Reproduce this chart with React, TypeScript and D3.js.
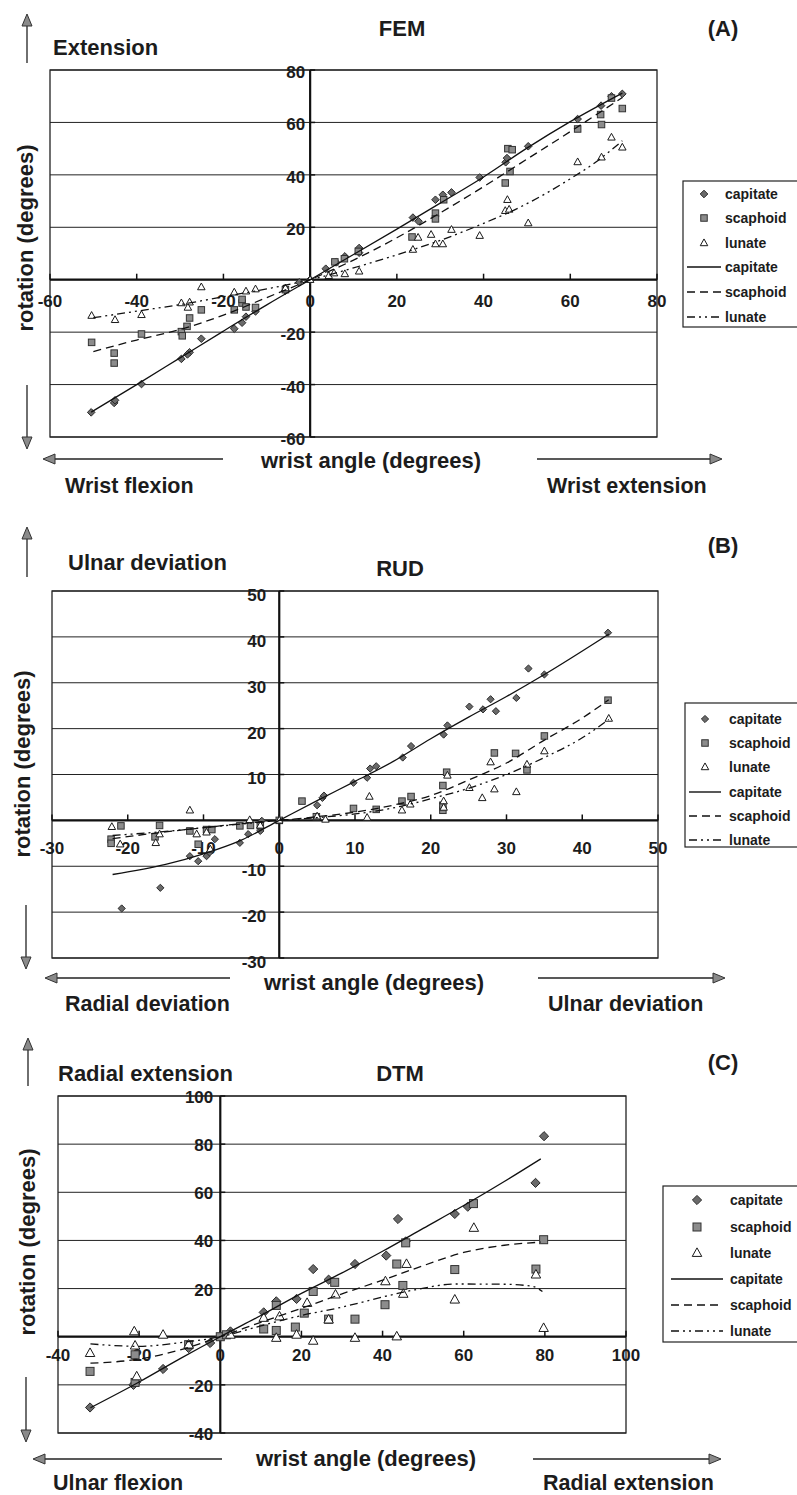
import React from "react";
import * as d3 from "d3";

type Pt = [number, number];

const FONT = "'Liberation Sans', Arial, Helvetica, sans-serif";

// ---------- (A) FEM ----------
const femCapitate: Pt[] = [[-50.5,-50.6],[-45.2,-47],[-45,-46],[-38.9,-39.8],[-29.7,-30.2],[-27.8,-27.7],[-28.3,-28.5],[-25.1,-22.5],[-17.5,-18.7],[-15.7,-16.4],[-14.8,-14.1],[-12.6,-12.1],[-5.7,-4.2],[-2.5,-1],[0,0],[3.6,4.2],[6,6.6],[8,8.9],[11.3,10.3],[11.3,12.1],[23.7,23.7],[25,22.3],[28.9,30.5],[30.6,32.4],[32.6,33.3],[39.1,39],[45.1,44.8],[45.4,46.4],[50.3,50.9],[61.7,61.3],[67.1,66.4],[69.5,70],[72,70.9]];
const femScaphoid: Pt[] = [[-50.4,-23.9],[-45.2,-28],[-45.2,-31.8],[-38.9,-20.7],[-29.7,-19.8],[-29.5,-21.4],[-28.4,-17.8],[-27.8,-14.6],[-25.1,-11.5],[-17.5,-11.5],[-15.7,-8.9],[-15.7,-7.5],[-14.8,-10.4],[-12.6,-10.6],[-5.7,-3.8],[5.7,6.8],[7.9,8],[11.1,10.8],[23.5,16.3],[28.9,25.4],[28.9,23.2],[30.8,30.5],[45,36.9],[46.1,41.3],[45.6,50],[46.6,49.6],[61.7,57.5],[67,63],[67.2,59.2],[69.5,69.3],[72,65.3]];
const femLunate: Pt[] = [[-50.4,-13.7],[-45,-15.3],[-38.9,-13.4],[-29.7,-8.9],[-27.8,-8.6],[-28.2,-10.6],[-25.1,-2.8],[-17.5,-4.8],[-14.8,-4.4],[-12.6,-3.6],[-5.7,-3.2],[0,0],[4.3,1.5],[5.5,2.5],[8,2.2],[11.3,3.2],[23.7,11.5],[24.9,16.1],[27.9,17.2],[28.9,13.6],[30.6,13.6],[32.6,19.1],[39.1,16.8],[45,26.3],[45.9,26.8],[45.5,30.5],[50.3,21.6],[61.7,44.9],[67.2,46.7],[69.5,54.3],[72,50.5]];
const femCapitateFit: Pt[] = [[-50.5,-50.5],[-40,-40],[-30,-29.8],[-20,-19.6],[-10,-9.6],[0,0],[10,9.6],[20,19.3],[30,29.2],[40,39.2],[50,50.2],[60,60.3],[72,71.2]];
const femScaphoidFit: Pt[] = [[-50,-27.4],[-40,-23],[-30,-19],[-20,-13.5],[-10,-6.8],[0,0],[10,7.5],[20,16],[30,25.5],[40,35.5],[50,46],[60,56.5],[72,69.5]];
const femLunateFit: Pt[] = [[-50,-14.5],[-40,-12],[-30,-9.5],[-20,-6.5],[-10,-3.5],[0,0],[10,4.5],[20,9.5],[30,15],[40,21.5],[50,29],[60,38.5],[66,45],[72,53]];
const femXTicks = [-60, -40, -20, 0, 20, 40, 60, 80];
const femYTicks = [-60, -40, -20, 0, 20, 40, 60, 80];

// ---------- (B) RUD ----------
const rudCapitate: Pt[] = [[-20.8,-19.2],[-15.7,-14.7],[-11.8,-7.8],[-10.7,-8.9],[-9.6,-7.8],[-9.2,-7],[-8.5,-4.1],[-5.2,-4.9],[-4.1,-3],[-2.5,-2.3],[-2.3,-0.1],[0,0],[5,3.3],[5.7,4.9],[5.9,5.4],[9.8,8.2],[11.6,9.3],[12,11.3],[12.8,11.8],[16.3,13.7],[17.4,16.2],[21.7,18.7],[22.2,20.7],[25.1,24.8],[26.9,24.2],[27.9,26.4],[28.6,23.8],[31.3,26.7],[32.9,33.1],[35,31.8],[43.4,40.9]];
const rudScaphoid: Pt[] = [[-22.2,-4.1],[-22.2,-5],[-20.9,-1.2],[-16.4,-3.6],[-15.8,-1.1],[-11.8,-2.3],[-10.7,-5.2],[-9.6,-2],[-8.9,-2],[-5.2,-1.2],[-3.8,-1.1],[-2.5,-1.2],[0,0],[3,4.2],[4.9,0.8],[9.8,2.6],[12.8,2.4],[16.2,4.2],[17.4,5.2],[21.6,7.6],[22.1,10.5],[21.6,2.2],[21.6,3.3],[28.4,14.7],[31.2,14.6],[32.7,11],[35,18.4],[43.4,26.2]];
const rudLunate: Pt[] = [[-22.1,-1.4],[-21,-5.2],[-15.8,-3],[-16.3,-4.9],[-11.8,2.2],[-10.9,-3],[-9.1,-6.3],[-9.6,-2.6],[-3.9,0.1],[-2.5,-1.1],[0,0],[5,0.9],[6.1,0.2],[11.6,0.6],[11.9,5.2],[16.2,2.2],[17.3,3.5],[21.7,4.2],[21.7,2.8],[22.2,9.8],[25.1,7.1],[26.8,4.9],[28.4,6.8],[27.9,12.7],[31.3,6.2],[32.7,12.2],[35,15.1],[43.5,22.2]];
const rudCapitateFit: Pt[] = [[-22,-11.8],[-15,-9.6],[-10,-7.3],[-5,-4.3],[0,0],[5,4.3],[10,8.5],[15,12.8],[20,17.8],[25,22.5],[30,27],[35,31.8],[43.5,40.6]];
const rudScaphoidFit: Pt[] = [[-22,-4],[-15,-2.5],[-10,-1.6],[-5,-0.7],[0,0],[5,0.8],[10,1.8],[15,3.3],[20,5.4],[25,8.8],[30,12.5],[35,17.5],[40,22.3],[43.5,26.3]];
const rudLunateFit: Pt[] = [[-22,-3.3],[-15,-2.4],[-10,-1.6],[-5,-0.8],[0,0],[5,0.6],[10,1.4],[15,2.7],[20,4.7],[25,7],[30,10],[35,13.7],[40,18],[43.5,22]];
const rudXTicks = [-30, -20, -10, 0, 10, 20, 30, 40, 50];
const rudYTicks = [-30, -20, -10, 0, 10, 20, 30, 40, 50];

// ---------- (C) DTM ----------
const dtmCapitate: Pt[] = [[-32.1,-29.4],[-21.4,-20],[-20.8,-19],[-14.1,-13.4],[-7.8,-4.7],[-2.5,-2.6],[0,0],[2.5,2.2],[10.7,10.1],[13.8,14.7],[18.8,15.7],[22.9,28.1],[26.7,23.7],[33.2,30.2],[40.9,33.7],[43.8,48.9],[45.7,39.6],[57.8,51],[61,54],[77.7,63.9],[79.8,83.3]];
const dtmScaphoid: Pt[] = [[-32.1,-14.4],[-21,-7.5],[-21,-19],[-7.8,-3.3],[0,0],[1.5,0.8],[10.7,3.2],[13.8,2.6],[13.8,13],[18.5,4],[20.7,9.8],[22.9,18.8],[26.7,7.3],[28.2,22.6],[33.2,7.3],[40.6,13.3],[43.5,30.2],[45,21.3],[45.7,39],[57.8,27.9],[62.4,55.3],[77.8,28.1],[79.7,40.3]];
const dtmLunate: Pt[] = [[-32.1,-6.8],[-21.2,2.2],[-21,-3.7],[-20.6,-16.5],[-14.1,0.8],[-7.8,-3.3],[2.5,0.8],[10.7,7.8],[13.8,-0.5],[14.6,8.4],[18.8,0.8],[21.4,14],[22.9,-1.7],[26.7,7.1],[28.4,17.5],[33.2,-0.5],[40.7,23],[43.5,0.1],[45.1,17.8],[45.9,30.2],[57.8,15.4],[62.5,45.2],[77.8,25.8],[79.7,3.6]];
const dtmCapitateFit: Pt[] = [[-32,-29.5],[-20,-18.8],[-10,-9.2],[0,0],[10,8.8],[20,18],[30,26.5],[40,35.5],[50,45],[60,54.5],[70,64.5],[79,73.9]];
const dtmScaphoidFit: Pt[] = [[-32,-11],[-20,-9.3],[-10,-5.5],[0,0],[10,6],[20,11.8],[30,17.8],[40,23.5],[50,29.5],[60,35],[70,38],[79,39.3]];
const dtmLunateFit: Pt[] = [[-32,-3],[-20,-4],[-10,-2.5],[0,0],[10,4.5],[20,8.8],[30,12.3],[40,16.5],[48,19.5],[58,21.9],[70,21.8],[77,20.9],[79.4,18.8]];
const dtmXTicks = [-40, -20, 0, 20, 40, 60, 80, 100];
const dtmYTicks = [-40, -20, 0, 20, 40, 60, 80, 100];

const legendLabels = ["capitate", "scaphoid", "lunate", "capitate", "scaphoid", "lunate"];

const SCA_DASH = "8,5";
const LUN_DASH = "8,4,2,4,2,4";

interface PanelCfg {
  title: string; tag: string; upLabel: string; leftLabel: string; rightLabel: string;
  xDomain: Pt; yDomain: Pt; xRange: Pt; yRange: Pt;
  xTicks: number[]; yTicks: number[];
  cap: Pt[]; sca: Pt[]; lun: Pt[]; capFit: Pt[]; scaFit: Pt[]; lunFit: Pt[];
  titleXY: Pt; tagXY: Pt; upLabelXY: Pt; rotXY: Pt; axisTitleXY: Pt; leftLabelXY: Pt; rightLabelXY: Pt;
  upArrow: [number, number, number]; downArrow: [number, number, number];
  leftArrow: [number, number, number]; rightArrow: [number, number, number];
  legend: { x: number; y: number; h: number; mx: number; tx: number; l1: number; l2: number; rows: number[] };
  yLabelGap: number; yLabelDy: number; xLabelDy: number;
  mk: { d: number; s: number; t: number };
}

const panels: PanelCfg[] = [
  {
    title: "FEM", tag: "(A)", upLabel: "Extension", leftLabel: "Wrist flexion", rightLabel: "Wrist extension",
    xDomain: [-60, 80], yDomain: [-60, 80], xRange: [50, 657], yRange: [437, 70],
    xTicks: femXTicks, yTicks: femYTicks,
    cap: femCapitate, sca: femScaphoid, lun: femLunate,
    capFit: femCapitateFit, scaFit: femScaphoidFit, lunFit: femLunateFit,
    titleXY: [402, 28], tagXY: [723, 28], upLabelXY: [53, 47], rotXY: [25, 238],
    axisTitleXY: [371, 460], leftLabelXY: [65, 485], rightLabelXY: [547, 485],
    upArrow: [27, 63, 14], downArrow: [27, 385, 449], leftArrow: [459, 223, 43], rightArrow: [459, 537, 722],
    legend: { x: 683, y: 181, h: 146, mx: 704, tx: 725, l1: 687, l2: 721, rows: [194, 218, 243, 267, 292, 317] },
    yLabelGap: 5, yLabelDy: 2, xLabelDy: 21,
    mk: { d: 3.8, s: 6.5, t: 7.5 },
  },
  {
    title: "RUD", tag: "(B)", upLabel: "Ulnar deviation", leftLabel: "Radial deviation", rightLabel: "Ulnar deviation",
    xDomain: [-30, 50], yDomain: [-30, 50], xRange: [52, 658], yRange: [958, 591],
    xTicks: rudXTicks, yTicks: rudYTicks,
    cap: rudCapitate, sca: rudScaphoid, lun: rudLunate,
    capFit: rudCapitateFit, scaFit: rudScaphoidFit, lunFit: rudLunateFit,
    titleXY: [400, 568], tagXY: [723, 545], upLabelXY: [68, 562], rotXY: [22, 764],
    axisTitleXY: [374, 982], leftLabelXY: [65, 1003], rightLabelXY: [548, 1003],
    upArrow: [27, 577, 527], downArrow: [26, 905, 969], leftArrow: [978, 230, 45], rightArrow: [978, 538, 725],
    legend: { x: 685, y: 703, h: 144, mx: 705, tx: 729, l1: 689, l2: 721, rows: [719, 743, 767, 792, 816, 840] },
    yLabelGap: 13, yLabelDy: 4, xLabelDy: 28,
    mk: { d: 3.6, s: 6.5, t: 7.5 },
  },
  {
    title: "DTM", tag: "(C)", upLabel: "Radial extension", leftLabel: "Ulnar flexion", rightLabel: "Radial extension",
    xDomain: [-40, 100], yDomain: [-40, 100], xRange: [58, 626], yRange: [1433, 1096],
    xTicks: dtmXTicks, yTicks: dtmYTicks,
    cap: dtmCapitate, sca: dtmScaphoid, lun: dtmLunate,
    capFit: dtmCapitateFit, scaFit: dtmScaphoidFit, lunFit: dtmLunateFit,
    titleXY: [400, 1073], tagXY: [723, 1062], upLabelXY: [58, 1073], rotXY: [27, 1242],
    axisTitleXY: [366, 1458], leftLabelXY: [53, 1482], rightLabelXY: [543, 1482],
    upArrow: [28, 1086, 1038], downArrow: [26, 1377, 1442], leftArrow: [1459, 222, 33], rightArrow: [1459, 533, 721],
    legend: { x: 663, y: 1186, h: 156, mx: 697, tx: 730, l1: 671, l2: 723, rows: [1200, 1227, 1253, 1279, 1305, 1331] },
    yLabelGap: 7, yLabelDy: 1, xLabelDy: 18,
    mk: { d: 4.6, s: 8, t: 9.5 },
  },
];

const TXT = "#1c1c1c";

function Diamond({ x, y, r }: { x: number; y: number; r: number }) {
  return <path d={`M${x},${y - r}L${x + r},${y}L${x},${y + r}L${x - r},${y}Z`} fill="#6a6a6a" stroke="#2a2a2a" strokeWidth={1} />;
}
function Square({ x, y, s }: { x: number; y: number; s: number }) {
  return <rect x={x - s / 2} y={y - s / 2} width={s} height={s} fill="#8c8c8c" stroke="#333" strokeWidth={1} />;
}
function Tri({ x, y, w }: { x: number; y: number; w: number }) {
  const h = w * 0.9;
  return <path d={`M${x},${y - h * 0.6}L${x + w / 2},${y + h * 0.4}L${x - w / 2},${y + h * 0.4}Z`} fill="#fff" stroke="#1a1a1a" strokeWidth={1} />;
}

function Arrow({ x1, y1, x2, y2 }: { x1: number; y1: number; x2: number; y2: number }) {
  const dx = x2 - x1, dy = y2 - y1;
  const len = Math.hypot(dx, dy);
  const ux = dx / len, uy = dy / len;
  const hl = 12, hw = 5;
  const bx = x2 - ux * hl, by = y2 - uy * hl;
  const px = -uy * hw, py = ux * hw;
  return (
    <g>
      <line x1={x1} y1={y1} x2={bx} y2={by} stroke="#222" strokeWidth={1.3} />
      <path d={`M${x2},${y2}L${bx + px},${by + py}L${bx - px},${by - py}Z`} fill="#8a8a8a" stroke="#333" strokeWidth={1} />
    </g>
  );
}

function Panel({ c }: { c: PanelCfg }) {
  const x = d3.scaleLinear().domain(c.xDomain).range(c.xRange);
  const y = d3.scaleLinear().domain(c.yDomain).range(c.yRange);
  const line = d3.line<Pt>().x((d) => x(d[0])).y((d) => y(d[1])).curve(d3.curveMonotoneX);
  const [xl, xr] = c.xRange;
  const [yb, yt] = c.yRange;
  const x0 = x(0), y0 = y(0);
  const lg = c.legend;
  const big = { fontFamily: FONT, fontWeight: 700, fontSize: 22, fill: TXT } as const;
  const side = { fontFamily: FONT, fontWeight: 700, fontSize: 21.5, fill: TXT } as const;

  return (
    <g>
      {/* grid */}
      {c.yTicks.map((t) => (
        <line key={"g" + t} x1={xl} x2={xr} y1={y(t)} y2={y(t)} stroke="#222" strokeWidth={1} />
      ))}
      <rect x={xl} y={yt} width={xr - xl} height={yb - yt} fill="none" stroke="#222" strokeWidth={1.3} />
      {/* axes through origin */}
      <line x1={xl} x2={xr} y1={y0} y2={y0} stroke="#111" strokeWidth={2.2} />
      <line x1={x0} x2={x0} y1={yt} y2={yb} stroke="#111" strokeWidth={2.2} />
      {c.xTicks.map((t) => (
        <line key={"xt" + t} x1={x(t)} x2={x(t)} y1={y0} y2={y0 - 6} stroke="#111" strokeWidth={1.5} />
      ))}
      {c.yTicks.map((t) => (
        <line key={"yt" + t} x1={x0} x2={x0 + 5} y1={y(t)} y2={y(t)} stroke="#111" strokeWidth={1.5} />
      ))}
      {/* tick labels */}
      {c.xTicks.map((t) => (
        <text key={"xl" + t} x={x(t)} y={y0 + c.xLabelDy} dy="0.35em" textAnchor="middle"
          fontFamily={FONT} fontWeight={700} fontSize={17} fill={TXT}>{t}</text>
      ))}
      {c.yTicks.filter((t) => t !== 0).map((t) => (
        <text key={"yl" + t} x={x0 - c.yLabelGap} y={y(t) + c.yLabelDy} dy="0.35em" textAnchor="end"
          fontFamily={FONT} fontWeight={700} fontSize={17} fill={TXT}>{t}</text>
      ))}
      {/* markers */}
      {c.cap.map((d, i) => <Diamond key={"c" + i} x={x(d[0])} y={y(d[1])} r={c.mk.d} />)}
      {c.sca.map((d, i) => <Square key={"s" + i} x={x(d[0])} y={y(d[1])} s={c.mk.s} />)}
      {c.lun.map((d, i) => <Tri key={"l" + i} x={x(d[0])} y={y(d[1])} w={c.mk.t} />)}
      {/* trend lines */}
      <path d={line(c.capFit) || ""} fill="none" stroke="#111" strokeWidth={1.3} />
      <path d={line(c.scaFit) || ""} fill="none" stroke="#111" strokeWidth={1.3} strokeDasharray={SCA_DASH} />
      <path d={line(c.lunFit) || ""} fill="none" stroke="#111" strokeWidth={1.3} strokeDasharray={LUN_DASH} />

      {/* legend */}
      <rect x={lg.x} y={lg.y} width={140} height={lg.h} fill="#fff" stroke="#222" strokeWidth={1.2} />
      {legendLabels.map((lab, i) => {
        const ry = lg.rows[i];
        let sym: React.ReactNode = null;
        if (i === 0) sym = <Diamond x={lg.mx} y={ry} r={c.mk.d} />;
        else if (i === 1) sym = <Square x={lg.mx} y={ry} s={c.mk.s} />;
        else if (i === 2) sym = <Tri x={lg.mx} y={ry} w={c.mk.t} />;
        else sym = (
          <line x1={lg.l1} x2={lg.l2} y1={ry} y2={ry} stroke="#111" strokeWidth={1.4}
            strokeDasharray={i === 4 ? SCA_DASH : i === 5 ? LUN_DASH : undefined} />
        );
        return (
          <g key={"lg" + i}>
            {sym}
            <text x={lg.tx} y={ry} dy="0.35em" fontFamily={FONT} fontWeight={700} fontSize={14} fill={TXT}>{lab}</text>
          </g>
        );
      })}

      {/* labels */}
      <text x={c.titleXY[0]} y={c.titleXY[1]} dy="0.35em" textAnchor="middle" {...big}>{c.title}</text>
      <text x={c.tagXY[0]} y={c.tagXY[1]} dy="0.35em" textAnchor="middle" {...big}>{c.tag}</text>
      <text x={c.upLabelXY[0]} y={c.upLabelXY[1]} dy="0.35em" {...big}>{c.upLabel}</text>
      <text transform={`translate(${c.rotXY[0]},${c.rotXY[1]}) rotate(-90)`} dy="0.35em" textAnchor="middle" {...big}>rotation (degrees)</text>
      <text x={c.axisTitleXY[0]} y={c.axisTitleXY[1]} dy="0.35em" textAnchor="middle" {...big}>wrist angle (degrees)</text>
      <text x={c.leftLabelXY[0]} y={c.leftLabelXY[1]} dy="0.35em" {...side}>{c.leftLabel}</text>
      <text x={c.rightLabelXY[0]} y={c.rightLabelXY[1]} dy="0.35em" {...side}>{c.rightLabel}</text>

      {/* arrows */}
      <Arrow x1={c.upArrow[0]} y1={c.upArrow[1]} x2={c.upArrow[0]} y2={c.upArrow[2]} />
      <Arrow x1={c.downArrow[0]} y1={c.downArrow[1]} x2={c.downArrow[0]} y2={c.downArrow[2]} />
      <Arrow x1={c.leftArrow[1]} y1={c.leftArrow[0]} x2={c.leftArrow[2]} y2={c.leftArrow[0]} />
      <Arrow x1={c.rightArrow[1]} y1={c.rightArrow[0]} x2={c.rightArrow[2]} y2={c.rightArrow[0]} />
    </g>
  );
}

export default function App() {
  return (
    <svg width={797} height={1495} style={{ position: "absolute", left: 0, top: 0, background: "#fff" }}>
      <rect width={797} height={1495} fill="#fff" />
      {panels.map((p) => <Panel key={p.title} c={p} />)}
    </svg>
  );
}
